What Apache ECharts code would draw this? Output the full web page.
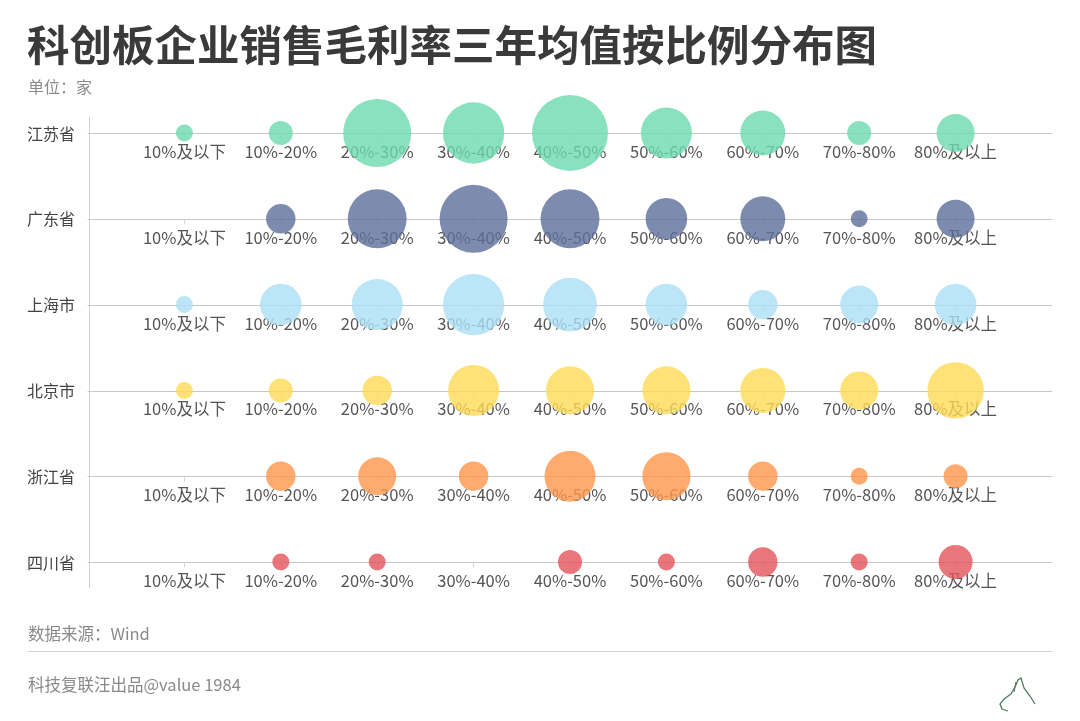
<!DOCTYPE html>
<html>
<head>
<meta charset="utf-8">
<script src="https://cdn.jsdelivr.net/npm/echarts@6/dist/echarts.min.js"></script>
<style>
html,body{margin:0;padding:0;background:#fff;}
#main{width:1080px;height:721px;}
</style>
</head>
<body>
<div id="main"></div>
<script>
// ---- data ----
const categories = ['10%及以下','10%-20%','20%-30%','30%-40%','40%-50%','50%-60%','60%-70%','70%-80%','80%及以上'];
const provinces = ['江苏省','广东省','上海市','北京市','浙江省','四川省'];
const jiangsu   = [1, 2, 16, 13, 20, 9, 7, 2, 5];
const guangdong = [0, 3, 12, 16, 12, 6, 7, 1, 5];
const shanghai  = [1, 6, 9, 13, 10, 6, 3, 5, 6];
const beijing   = [1, 2, 3, 9, 8, 8, 7, 5, 11];
const zhejiang  = [0, 3, 5, 3, 9, 8, 3, 1, 2];
const sichuan   = [0, 1, 1, 0, 2, 1, 3, 1, 4];
const seriesValues = [jiangsu, guangdong, shanghai, beijing, zhejiang, sichuan];
const colors = ['#6BD9AF','#5D6E9A','#ACDEF6','#FEDB55','#FF964C','#E2545A'];

// padded category list so the axis line extends beyond first/last category
const axisCats = [''].concat(categories, ['']);

const FONT = '"Noto Sans CJK SC", "Noto Sans", sans-serif';
const rowTop0 = 133.5, rowStep = 85.8;

const singleAxes = provinces.map((p, i) => ({
  type: 'category',
  boundaryGap: false,
  data: axisCats,
  left: 88,
  right: 28,
  top: rowTop0 + i * rowStep - 1,
  height: 1,
  name: p,
  nameLocation: 'start',
  nameGap: 13,
  nameTextStyle: { color: '#444', fontSize: 16, fontFamily: FONT, verticalAlign: 'middle' },
  axisLine: { lineStyle: { color: '#c8c8c8', width: 1 } },
  axisTick: {
    show: true, length: 5,
    lineStyle: { color: '#d6d6d6' },
    interval: function (idx, val) { return val !== ''; }
  },
  axisLabel: { interval: 0, margin: 10, color: '#555', fontSize: 16.5, fontFamily: FONT },
  splitLine: { show: false }
}));

const series = seriesValues.map((vals, i) => ({
  type: 'scatter',
  coordinateSystem: 'singleAxis',
  singleAxisIndex: i,
  data: vals.map((v, j) => [j + 1, v]),
  symbolSize: function (d) { return Math.sqrt(d[1]) * 17; },
  itemStyle: { color: colors[i], opacity: 0.8 },
  emphasis: { disabled: true },
  silent: true
}));

const chart = echarts.init(document.getElementById('main'), null, { renderer: 'canvas' });
chart.setOption({
  backgroundColor: '#ffffff',
  animation: false,
  textStyle: { fontFamily: FONT },
  title: [
    { text: '科创板企业销售毛利率三年均值按比例分布图', left: 22, top: 19,
      textStyle: { fontSize: 42.5, fontWeight: 'bold', color: '#3a3a3a', fontFamily: FONT } },
    { text: '单位：家', left: 23, top: 74,
      textStyle: { fontSize: 16, fontWeight: 'normal', color: '#8a8a8a', fontFamily: FONT } },
    { text: '数据来源：Wind', left: 23, top: 620,
      textStyle: { fontSize: 16.5, fontWeight: 'normal', color: '#8a8a8a', fontFamily: FONT } },
    { text: '科技复联汪出品@value 1984', left: 23, top: 671,
      textStyle: { fontSize: 16.5, fontWeight: 'normal', color: '#8a8a8a', fontFamily: FONT } }
  ],
  grid: { left: 89, top: 117, height: 471, width: 10 },
  xAxis: { type: 'value', show: false },
  yAxis: {
    type: 'value',
    axisLine: { show: true, lineStyle: { color: '#d0d0d0' } },
    axisTick: { show: false }, axisLabel: { show: false }, splitLine: { show: false }
  },
  singleAxis: singleAxes,
  series: series,
  graphic: [
    { type: 'line', shape: { x1: 28, y1: 651.5, x2: 1052, y2: 651.5 },
      style: { stroke: '#d4d4d4', lineWidth: 1 }, silent: true },
    { type: 'polyline',
      shape: { points: [[1008,711],[1002,709],[1000,704],[1004,699],[1011,694],[1015,687],[1018,680],[1021,678],[1024,688],[1030,696],[1035,704]] },
      style: { stroke: '#4f7d5f', lineWidth: 1.3, fill: null }, silent: true },
    { type: 'polyline',
      shape: { points: [[1016,682],[1014,692]] },
      style: { stroke: '#4f7d5f', lineWidth: 1.2, fill: null }, silent: true }
  ]
});
</script>
</body>
</html>
